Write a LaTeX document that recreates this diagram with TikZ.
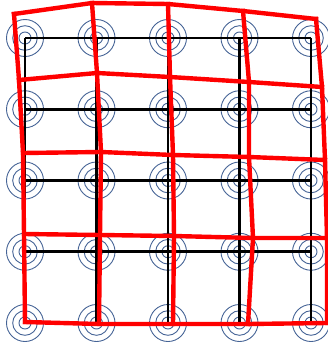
\documentclass[tikz,border=0pt]{standalone}
\usetikzlibrary{calc}
\definecolor{ringblue}{RGB}{70,100,150}
\begin{document}
\begin{tikzpicture}[x=1pt, y=-1pt,
    ring/.style={draw=ringblue, line width=0.9pt},
    grid line/.style={draw=black, line width=2.9pt},
    warp line/.style={draw=red, line width=4.4pt, line join=round, line cap=rect}
]
\useasboundingbox (0,0) rectangle (328,345);

% regular grid points
\foreach \i in {0,...,4}
  \foreach \j in {0,...,4}
    \coordinate (g-\i-\j) at ({25+71.5*\i},{38+71.25*\j});

% displaced grid points
\foreach \x/\y [count=\n from 0] in {
    14/14, 92/3, 168/4, 243/11, 316/19,
    19/80, 97/73, 170/77, 249/82, 322/87,
    23/153, 101/152, 173/155, 249/157, 325/160,
    24/234, 100/235, 174/236, 253/238, 327/238,
    25/322, 99/324, 173/324, 248/324, 327/323} {
  \pgfmathtruncatemacro{\ci}{mod(\n,5)}
  \pgfmathtruncatemacro{\cj}{int(\n/5)}
  \coordinate (d-\ci-\cj) at (\x,\y);
}

% rings round each point
\foreach \i in {0,...,4}
  \foreach \j in {0,...,4}
    \foreach \r in {6,12.3,18.5}
      \draw[ring] (g-\i-\j) circle (\r pt);

% regular grid
\foreach \k in {0,...,4} {
  \draw[grid line] (g-0-\k) -- (g-4-\k);
  \draw[grid line] (g-\k-0) -- (g-\k-4);
}

% warped grid
\foreach \k in {0,...,4} {
  \draw[warp line] (d-0-\k) -- (d-1-\k) -- (d-2-\k) -- (d-3-\k) -- (d-4-\k);
  \draw[warp line] (d-\k-0) -- (d-\k-1) -- (d-\k-2) -- (d-\k-3) -- (d-\k-4);
}

\end{tikzpicture}
\end{document}
